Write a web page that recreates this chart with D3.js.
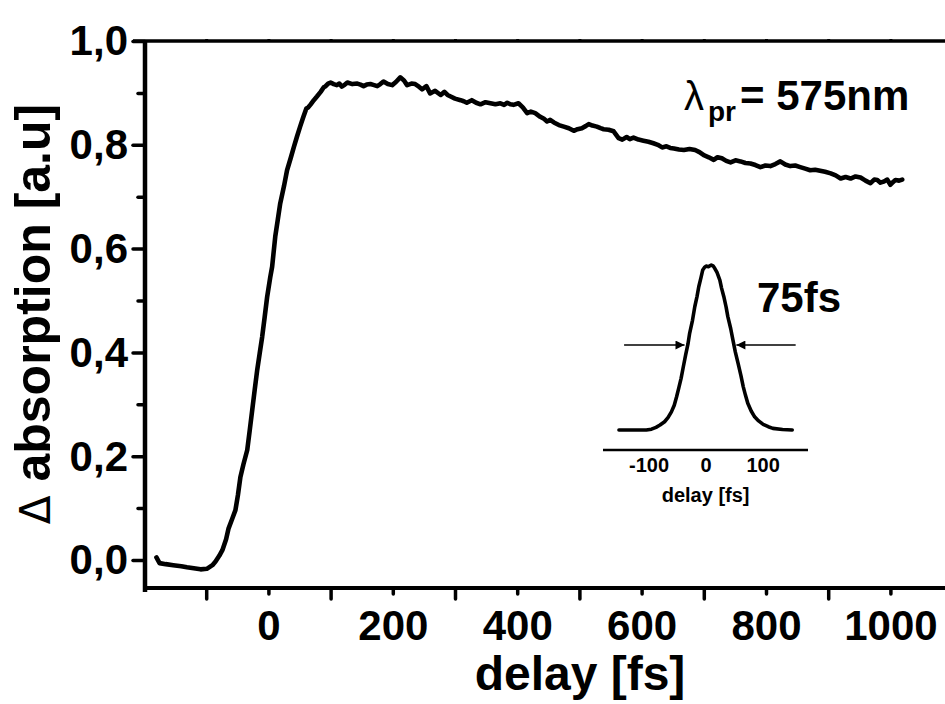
<!DOCTYPE html>
<html><head><meta charset="utf-8">
<script src="https://cdn.jsdelivr.net/npm/d3@7"></script>
<style>body{margin:0;background:#fff}svg{display:block}text{font-family:"Liberation Sans",Arial,sans-serif;font-weight:bold;fill:#000}</style>
</head><body>
<svg id="chart" width="945" height="704"></svg>
<script>
// ---- data ----
const mainDelay = [-180,-175,-165,-153,-140,-131,-120,-109,-99,-90,-85,-79,-74,-68,-64,-58,-53,-49,-45,-40,-34,-30,-26,-22,-18,-14,-10,-6,-2,3,6,11,15,19,25,30,36,41,46,51,56,61,64,68,73,78,84,89,92,96,100,105,110,114,118,123,127,135,143,148,153,158,164,170,175,180,185,192,199,205,212,218,223,230,236,242,247,254,260,268,277,283,288,293,300,309,314,319,327,334,341,349,357,365,373,379,384,389,394,402,409,416,422,429,437,443,448,453,459,467,475,483,491,497,504,510,515,521,528,534,539,547,555,563,569,576,581,587,595,603,611,619,626,633,640,646,652,660,668,677,686,693,700,708,716,722,729,736,743,751,759,767,775,783,791,799,807,815,823,831,839,847,855,863,871,879,887,895,904,912,920,928,936,944,952,960,968,974,979,984,989,995,1000,1004,1008,1014,1019];
const mainAbs = [0.005,-0.006,-0.008,-0.010,-0.012,-0.014,-0.016,-0.018,-0.017,-0.010,-0.003,0.008,0.019,0.040,0.061,0.080,0.096,0.125,0.160,0.185,0.212,0.250,0.289,0.328,0.366,0.398,0.430,0.468,0.507,0.545,0.565,0.623,0.655,0.687,0.720,0.751,0.775,0.796,0.816,0.835,0.853,0.870,0.872,0.878,0.886,0.893,0.902,0.911,0.913,0.918,0.920,0.917,0.915,0.918,0.912,0.916,0.920,0.917,0.918,0.916,0.913,0.916,0.917,0.915,0.913,0.917,0.922,0.917,0.915,0.921,0.930,0.924,0.915,0.918,0.917,0.912,0.907,0.913,0.899,0.904,0.896,0.902,0.896,0.893,0.889,0.886,0.884,0.881,0.886,0.881,0.878,0.882,0.880,0.878,0.880,0.877,0.881,0.878,0.877,0.880,0.872,0.861,0.864,0.861,0.854,0.850,0.845,0.848,0.843,0.838,0.835,0.832,0.827,0.830,0.832,0.836,0.840,0.837,0.835,0.832,0.830,0.829,0.826,0.813,0.810,0.815,0.811,0.814,0.810,0.808,0.806,0.803,0.800,0.795,0.797,0.794,0.793,0.791,0.790,0.792,0.790,0.786,0.780,0.776,0.771,0.776,0.774,0.769,0.766,0.770,0.768,0.765,0.764,0.761,0.757,0.760,0.759,0.763,0.768,0.762,0.759,0.760,0.757,0.754,0.751,0.752,0.750,0.748,0.745,0.741,0.735,0.738,0.735,0.739,0.737,0.731,0.726,0.733,0.732,0.727,0.729,0.733,0.723,0.728,0.732,0.731,0.733];

const xLabelTicks = [0,200,400,600,800,1000];
const xOddTicks = [-100,100,300,500,700,900];
const yLabelTicks = [0,0.2,0.4,0.6,0.8,1.0];
const yMinorTicks = [0.1,0.3,0.5,0.7,0.9];

const insetDelay = [-152,-130,-104,-95,-87,-80,-72,-66,-60,-55,-51,-47,-43,-39,-35,-31,-28,-23,-19,-15,-12,-8,-5,-2,1,5,10,13,16,20,25,28,32,36,39,44,48,52,57,62,66,70,74,80,86,93,101,110,118,135,152];
const insetSignal = [0,0,0,0.005,0.016,0.03,0.05,0.075,0.11,0.15,0.20,0.255,0.313,0.385,0.455,0.52,0.586,0.665,0.747,0.81,0.868,0.925,0.97,0.985,0.994,0.99,1.0,0.995,0.98,0.955,0.909,0.86,0.808,0.745,0.687,0.615,0.545,0.475,0.404,0.33,0.263,0.21,0.162,0.115,0.08,0.055,0.034,0.02,0.01,0.003,0];
const insetTicks = [-100,0,100];
const fwhmLevel = 0.515;
const leftArrow = [-143,-37];
const rightArrow = [158,54];

// ---- drawing ----
const svg = d3.select("#chart");
const x = d3.scaleLinear().domain([-200,1100]).range([144,952.6]);
const y = d3.scaleLinear().domain([0,1]).range([560,41]);
const yBottom = 588;

const fmt = v => d3.format(".1f")(v).replace(".", ",");
const plain = v => String(v);

// bottom axis labeled (short ticks)
const gxL = svg.append("g").attr("transform",`translate(0,${yBottom})`)
  .call(d3.axisBottom(x).tickValues(xLabelTicks).tickSize(6).tickPadding(20).tickFormat(plain));
const gxO = svg.append("g").attr("transform",`translate(0,${yBottom})`)
  .call(d3.axisBottom(x).tickValues(xOddTicks).tickSize(11).tickFormat(""));
[gxL,gxO].forEach(g=>{g.select(".domain").remove();g.selectAll(".tick line").attr("stroke","#000").attr("stroke-width",3.5).attr("stroke-linecap","round");});
gxL.selectAll(".tick text").attr("font-size",42).attr("dy","0.71em").attr("y",22);

// top axis
const gxT = svg.append("g").attr("transform",`translate(0,41)`)
  .call(d3.axisTop(x).tickValues(xLabelTicks.concat(xOddTicks)).tickSize(2).tickFormat(""));
gxT.select(".domain").remove();
gxT.selectAll(".tick line").attr("stroke","#000").attr("stroke-width",3);

// left axis
const gyL = svg.append("g").attr("transform",`translate(145,0)`)
  .call(d3.axisLeft(y).tickValues(yLabelTicks).tickSize(12).tickPadding(5).tickFormat(fmt));
const gyM = svg.append("g").attr("transform",`translate(145,0)`)
  .call(d3.axisLeft(y).tickValues(yMinorTicks).tickSize(7).tickFormat(""));
[gyL,gyM].forEach(g=>{g.select(".domain").remove();g.selectAll(".tick line").attr("stroke","#000").attr("stroke-width",3.5).attr("stroke-linecap","round");});
gyL.selectAll(".tick text").attr("font-size",42).attr("dy","0.33em");

// spines
svg.append("line").attr("x1",145).attr("x2",145).attr("y1",41).attr("y2",592).attr("stroke","#000").attr("stroke-width",4.5);
svg.append("line").attr("x1",143).attr("x2",945).attr("y1",yBottom).attr("y2",yBottom).attr("stroke","#000").attr("stroke-width",4);
svg.append("line").attr("x1",133).attr("x2",945).attr("y1",41).attr("y2",41).attr("stroke","#000").attr("stroke-width",3.5);

// main curve
const line = d3.line().x(d=>x(d[0])).y(d=>y(d[1]));
svg.append("path").datum(mainDelay.map((d,i)=>[d,mainAbs[i]]))
  .attr("d",line).attr("fill","none").attr("stroke","#000").attr("stroke-width",4.6)
  .attr("stroke-linejoin","round").attr("stroke-linecap","round");

// axis titles
svg.append("text").attr("x",580).attr("y",690).attr("text-anchor","middle").attr("font-size",48).text("delay [fs]");
const yt = svg.append("text").attr("transform","translate(50,314) rotate(-90)").attr("text-anchor","middle").attr("font-size",50);
yt.append("tspan").style("font-weight","normal").style("font-family","DejaVu Sans, sans-serif").attr("font-size",42).text("\u0394");
yt.append("tspan").text(" absorption [a.u]");

// lambda label
svg.append("text").attr("x",684).attr("y",110).attr("font-size",40).style("font-weight","normal").text("\u03BB");
svg.append("text").attr("x",708).attr("y",121).attr("font-size",28).text("pr");
svg.append("text").attr("x",740).attr("y",110).attr("font-size",42).text("= 575nm");

// inset
const xi = d3.scaleLinear().domain([-180,180]).range([603,808.2]);
const yi = d3.scaleLinear().domain([0,1]).range([430,265]);
svg.append("line").attr("x1",603).attr("x2",808).attr("y1",450).attr("y2",450).attr("stroke","#000").attr("stroke-width",2.5);
const gi = svg.append("g").attr("transform","translate(0,450)")
  .call(d3.axisBottom(xi).tickValues(insetTicks).tickSize(0).tickPadding(8).tickFormat(plain));
gi.select(".domain").remove();
gi.selectAll(".tick text").attr("font-size",20).attr("dy","0.71em");
svg.append("text").attr("x",xi(0)).attr("y",502).attr("text-anchor","middle").attr("font-size",20).text("delay [fs]");
const li = d3.line().x(d=>xi(d[0])).y(d=>yi(d[1]));
svg.append("path").datum(insetDelay.map((d,i)=>[d,insetSignal[i]]))
  .attr("d",li).attr("fill","none").attr("stroke","#000").attr("stroke-width",3.6)
  .attr("stroke-linejoin","round").attr("stroke-linecap","round");

// arrows
const defs = svg.append("defs");
defs.append("marker").attr("id","ah").attr("viewBox","0 0 10 10").attr("refX",10).attr("refY",5)
  .attr("markerWidth",16).attr("markerHeight",9).attr("markerUnits","userSpaceOnUse").attr("orient","auto")
  .append("path").attr("d","M0,0L10,5L0,10Z").attr("fill","#000");
[leftArrow,rightArrow].forEach(a=>{
  svg.append("line").attr("x1",xi(a[0])).attr("x2",xi(a[1])).attr("y1",yi(fwhmLevel)).attr("y2",yi(fwhmLevel))
    .attr("stroke","#000").attr("stroke-width",1.5).attr("marker-end","url(#ah)");
});
svg.append("text").attr("x",757).attr("y",312).attr("font-size",42).text("75fs");
</script>
</body></html>
